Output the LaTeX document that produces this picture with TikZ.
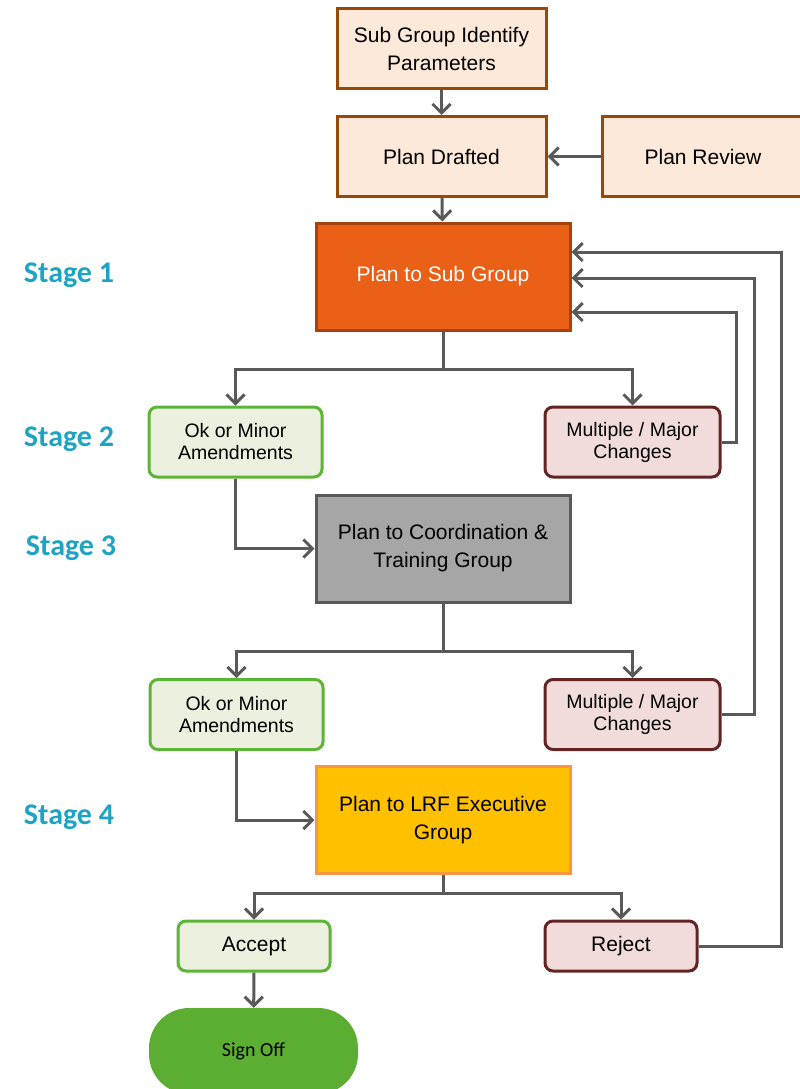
\documentclass[tikz,border=0pt]{standalone}
\usepackage{fontspec}
\setmainfont{Liberation Sans}
\newfontfamily\stagefont{Carlito}
\usepackage{tikz}
\usetikzlibrary{arrows.meta,positioning,calc}
\definecolor{peachfill}{RGB}{253,233,217}
\definecolor{peachline}{RGB}{152,72,7}
\definecolor{subfill}{RGB}{234,96,22}
\definecolor{subline}{RGB}{168,66,12}
\definecolor{okfill}{RGB}{235,241,222}
\definecolor{okline}{RGB}{94,180,54}
\definecolor{majfill}{RGB}{242,220,219}
\definecolor{majline}{RGB}{99,37,35}
\definecolor{coordfill}{RGB}{166,166,166}
\definecolor{coordline}{RGB}{89,89,89}
\definecolor{lrffill}{RGB}{255,192,0}
\definecolor{lrfline}{RGB}{247,150,70}
\definecolor{signfill}{RGB}{92,174,51}
\definecolor{stageteal}{RGB}{30,163,194}
\definecolor{linkgray}{RGB}{89,89,89}

\begin{document}
\begin{tikzpicture}[x=1pt,y=-1pt,
    box/.style={draw, line width=3pt, align=center, inner sep=2pt,
        font=\fontsize{21}{28}\selectfont},
    peach/.style={box, fill=peachfill, draw=peachline, minimum width=209pt, minimum height=80pt},
    bigbox/.style={box, minimum width=254pt, minimum height=107pt},
    okbox/.style={box, fill=okfill, draw=okline, rounded corners=8pt, minimum width=173pt, minimum height=70pt,
        font=\fontsize{19.5}{22}\selectfont},
    majbox/.style={box, fill=majfill, draw=majline, rounded corners=8pt, minimum width=175pt, minimum height=70pt,
        font=\fontsize{19.5}{22}\selectfont},
    link/.style={draw=linkgray, line width=3pt, -{Straight Barb[length=9pt,width=18pt,line width=3pt]}},
    stagelabel/.style={text=stageteal, font=\stagefont\bfseries\fontsize{30}{34}\selectfont}]
\useasboundingbox (0,0) rectangle (800,1089);

% top of the plan
\node[peach] (identify) at (441.5,49) {Sub Group Identify\\Parameters};
\node[peach] (drafted) at (441.5,156.5) {Plan Drafted};
\node[peach, minimum width=202pt] (review) at (703,156.5) {Plan Review};

% stages
\node[bigbox, fill=subfill, draw=subline, text=white] (subgroup) at (443,276.5) {Plan to Sub Group};
\node[okbox] (okone) at (235.5,442) {Ok or Minor\\Amendments};
\node[majbox] (majone) at (632.5,442) {Multiple / Major\\Changes};
\node[bigbox, fill=coordfill, draw=coordline] (coordination) at (443,548.5) {Plan to Coordination \&\\Training Group};
\node[okbox] (oktwo) at (236.5,714.5) {Ok or Minor\\Amendments};
\node[majbox] (majtwo) at (632.5,714.5) {Multiple / Major\\Changes};
\node[bigbox, fill=lrffill, draw=lrfline] (executive) at (443,820) {Plan to LRF Executive\\Group};
\node[okbox, minimum width=152pt, minimum height=50pt, font=\fontsize{21}{24}\selectfont] (accept) at (254,946) {Accept};
\node[majbox, minimum width=152pt, minimum height=50pt, font=\fontsize{21}{24}\selectfont] (reject) at (621,946) {Reject};
\node[fill=signfill, rounded corners=40pt, minimum width=209pt, minimum height=86pt,
    font=\stagefont\fontsize{20}{24}\selectfont] (signoff) at (253.5,1051) {Sign Off};

% stage labels
\node[stagelabel] (stageone) at (69,275) {Stage 1};
\node[stagelabel] (stagetwo) at (69,439) {Stage 2};
\node[stagelabel] (stagethree) at (71,548) {Stage 3};
\node[stagelabel] (stagefour) at (69,817) {Stage 4};

% connectors
\draw[link] (identify) -- (drafted);
\draw[link] (review) -- (drafted);
\draw[link] (drafted) -- (subgroup);
\draw[link] (subgroup.south) -- ++(0,38) -| (okone);
\draw[link] (subgroup.south) -- ++(0,38) -| (majone);
\draw[link] (okone.south) |- (coordination.west);
\draw[link] (coordination.south) -- ++(0,48) -| (oktwo);
\draw[link] (coordination.south) -- ++(0,48) -| (majtwo);
\draw[link] (oktwo.south) |- (executive.west);
\draw[link] (executive.south) -- ++(0,18) -| (accept);
\draw[link] (executive.south) -- ++(0,18) -| (reject);
\draw[link] (accept) -- (signoff);

% back to the sub group
\draw[link] (majone.east) -- ++(15,0) |- ([yshift=-35.5pt]subgroup.east);
\draw[link] (majtwo.east) -- ++(33,0) |- ([yshift=-1.5pt]subgroup.east);
\draw[link] (reject.east) -- ++(83,0) |- ([yshift=24.5pt]subgroup.east);
\end{tikzpicture}
\end{document}
